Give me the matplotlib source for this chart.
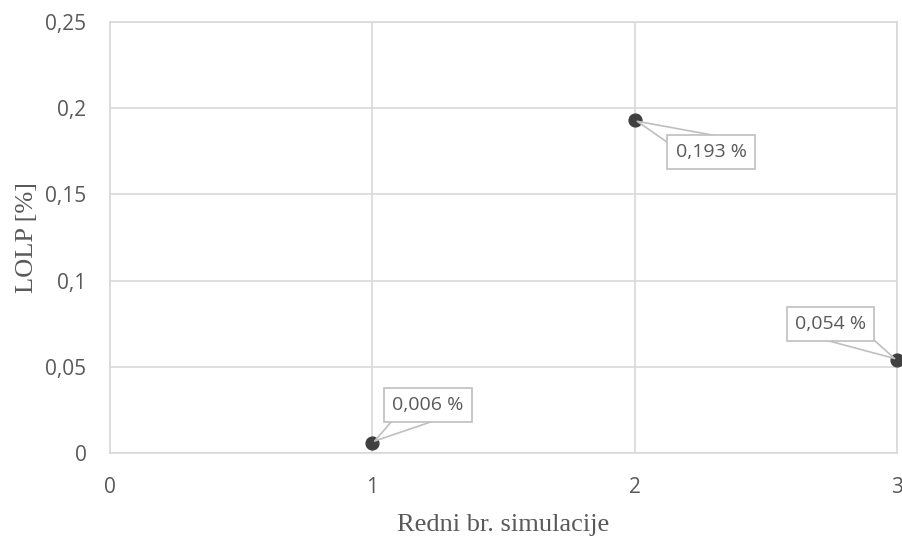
import matplotlib.pyplot as plt

# data
sim = [1, 2, 3]
lolp = [0.006, 0.193, 0.054]
labels = ['0,006 %', '0,193 %', '0,054 %']
offsets = [(40, 27), (55, -23), (-48, 26)]  # label offset in points

xticks = [0, 1, 2, 3]
yticks = [0, 0.05, 0.1, 0.15, 0.2, 0.25]
ytick_labels = ['0', '0,05', '0,1', '0,15', '0,2', '0,25']

fig = plt.figure(figsize=(9.02, 5.36), dpi=100)
ax = fig.add_axes([0.122, 0.155, 0.8725, 0.804])

ax.scatter(sim, lolp, s=85, color='#404040', zorder=3, clip_on=False)

# callouts: wedge starts at the label centre, box is drawn over its base
for x, y, t, off in zip(sim, lolp, labels, offsets):
    ax.annotate(t, xy=(x, y), xytext=off, textcoords='offset points',
                ha='center', va='center', fontsize=14, color='#595959',
                family='Open Sans',
                bbox=dict(boxstyle='square,pad=0.42', fc='white', ec='#bfbfbf', lw=1.2),
                arrowprops=dict(arrowstyle='wedge,tail_width=1.8,shrink_factor=0.5',
                                fc='white', ec='#bfbfbf', lw=1.2, patchA=None,
                                shrinkA=0, shrinkB=2),
                zorder=4, annotation_clip=False)

ax.set_xlim(0, 3)
ax.set_ylim(0, 0.25)
ax.set_xticks(xticks)
ax.set_yticks(yticks)
ax.set_yticklabels(ytick_labels)
ax.tick_params(length=0, labelsize=15, labelcolor='#595959')
ax.tick_params(axis='x', pad=17.5)
ax.tick_params(axis='y', pad=17)
for lab in ax.get_xticklabels() + ax.get_yticklabels():
    lab.set_family('Open Sans')

ax.grid(True, color='#d9d9d9', lw=1.2)
ax.set_axisbelow(True)
for s in ax.spines.values():
    s.set_color('#d9d9d9')
    s.set_linewidth(1.2)

ax.set_xlabel('Redni br. simulacije', family='Liberation Serif', fontsize=19,
              color='#595959', labelpad=11)
ax.set_ylabel('LOLP [%]', family='Liberation Serif', fontsize=19,
              color='#595959', labelpad=5.5)

fig.savefig('out.png', dpi=100)
